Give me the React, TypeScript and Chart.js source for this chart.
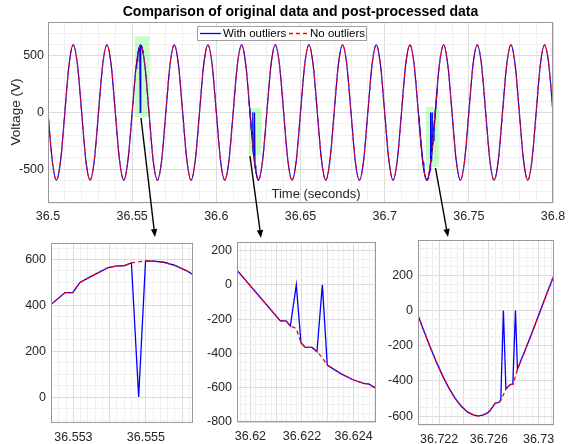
import React, { useEffect, useRef } from 'react';
import { Chart, registerables } from 'chart.js';
Chart.register(...registerables);

const FONT = "'Liberation Sans', Arial, Helvetica, sans-serif";
const W = 574;
const H = 444;

// ---------------- main chart data ----------------
const mainStartTime = 36.5;
const mainTimeStep = 0.0025;
const mainVoltage = [
  0, -423, -598, -423, 0, 423, 598, 423,
  0, -423, -598, -423, 0, 423, 598, 423,
  0, -423, -598, -423, 0, 423, 598, 423,
  0, -423, -598, -423, 0, 423, 598, 423,
  0, -423, -598, -423, 0, 423, 598, 423,
  0, -423, -598, -423, 0, 423, 598, 423,
  0, -423, -598, -423, 0, 423, 598, 423,
  0, -423, -598, -423, 0, 423, 598, 423,
  0, -423, -598, -423, 0, 423, 598, 423,
  0, -423, -598, -423, 0, 423, 598, 423,
  0, -423, -598, -423, 0, 423, 598, 423,
  0, -423, -598, -423, 0, 423, 598, 423,
  0, -423, -598, -423, 0, 423, 598, 423,
  0, -423, -598, -423, 0, 423, 598, 423,
  0, -423, -598, -423, 0, 423, 598, 423,
  0,
];
const mainXTicks = [36.5, 36.55, 36.6, 36.65, 36.7, 36.75, 36.8];
const mainYTicks = [-500, 0, 500];

// highlighted regions (green boxes)
const highlightStart = [36.5515, 36.6194, 36.7245];
const highlightEnd = [36.56, 36.6268, 36.7324];
const highlightLow = [-40, -380, -482];
const highlightHigh = [673, 40, 50];

// ---------------- zoom 1 ----------------
const sub1Times = [36.5523, 36.55277, 36.55298, 36.55318, 36.55346, 36.55373, 36.55396, 36.55419, 36.55439, 36.5546, 36.5548, 36.55499, 36.5552, 36.5555, 36.5558, 36.5561, 36.5564];
const sub1With = [393, 456, 456, 500, 524, 546, 565, 572, 572, 585, 0, 594, 593, 588, 574, 553, 526];
const sub1Without = [393, 456, 456, 500, 524, 546, 565, 572, 572, 585, null, 594, 593, 588, 574, 553, 526];
const sub1XTicks = [36.553, 36.555];
const sub1YTicks = [0, 200, 400, 600];

// ---------------- zoom 2 ----------------
const sub2Times = [36.6194, 36.62116, 36.62138, 36.62155, 36.62178, 36.62196, 36.62213, 36.62239, 36.62258, 36.62279, 36.62298, 36.6235, 36.624, 36.62439, 36.62458, 36.6249];
const sub2With = [100, -210, -210, -240, 0, -338, -365, -365, -390, 0, -468, -518, -555, -575, -578, -605];
const sub2Without = [100, -210, -210, -240, -255, -338, -365, -365, -390, -425, -468, -518, -555, -575, -578, -605];
const sub2XTicks = [36.62, 36.622, 36.624];
const sub2YTicks = [-800, -600, -400, -200, 0, 200];

// ---------------- zoom 3 ----------------
const sub3Times = [36.7203, 36.7208, 36.7213, 36.7218, 36.7223, 36.7228, 36.7233, 36.7238, 36.7243, 36.7248, 36.72515, 36.7255, 36.7259, 36.7261, 36.7265, 36.72683, 36.72696, 36.72717, 36.72737, 36.72771, 36.72793, 36.72814, 36.7283, 36.7288, 36.7293, 36.7298, 36.7303, 36.7308, 36.7313];
const sub3With = [-28, -121, -211, -296, -374, -442, -500, -545, -577, -594, -598, -594, -581, -568, -527, -521, -508, 0, -446, -421, -418, 0, -333, -246, -158, -66, 28, 121, 211];
const sub3Without = [-28, -121, -211, -296, -374, -442, -500, -545, -577, -594, -598, -594, -581, -568, -527, -521, -508, -478, -446, -421, -418, -375, -333, -246, -158, -66, 28, 121, 211];
const sub3XTicks = [36.722, 36.726, 36.73];
const sub3YTicks = [-600, -400, -200, 0, 200];

// ---------------- helpers ----------------
const BLUE = '#0000ff';
const RED = '#ff0000';
const DASH = [4, 3];
const GRID_MAJOR = '#dcdcdc';
const GRID_MINOR = '#f0f0f0';
const FRAME = '#9a9a9a';
const TICK_COLOR = '#262626';
const MAIN_LW = 1.2;
const SUB_LW = 1.3;

type AxisSpec = { min: number; max: number; labels: number[]; major: number; minor: number };

function series(times: number[], values: (number | null)[]) {
  return times.map((t, i) => ({ x: t, y: values[i] }));
}

function gridTicks(a: AxisSpec) {
  const out: { value: number }[] = [];
  const k0 = Math.ceil(a.min / a.minor - 1e-6);
  const k1 = Math.floor(a.max / a.minor + 1e-6);
  for (let k = k0; k <= k1; k++) out.push({ value: +(k * a.minor).toFixed(7) });
  return out;
}

function isMultiple(v: number, step: number) {
  const r = v / step;
  return Math.abs(r - Math.round(r)) < 1e-3;
}

function scaleOpts(a: AxisSpec, axis: 'x' | 'y', size: number, pad: number) {
  return {
    type: 'linear',
    position: axis === 'x' ? 'bottom' : 'left',
    min: a.min,
    max: a.max,
    afterBuildTicks: (s: any) => {
      s.ticks = gridTicks(a);
    },
    afterFit: (s: any) => {
      if (axis === 'x') {
        s.height = size;
        s.paddingLeft = 0;
        s.paddingRight = 0;
      } else {
        s.width = size;
        s.paddingTop = 0;
        s.paddingBottom = 0;
      }
    },
    grid: {
      drawTicks: false,
      lineWidth: 1,
      color: (c: any) => {
        const v = c.tick ? c.tick.value : undefined;
        if (v === undefined) return 'rgba(0,0,0,0)';
        return isMultiple(v, a.major) ? GRID_MAJOR : GRID_MINOR;
      },
    },
    border: { display: false },
    ticks: {
      autoSkip: false,
      maxRotation: 0,
      minRotation: 0,
      padding: pad,
      color: TICK_COLOR,
      font: { family: FONT, size: 12.5 },
      callback: (v: any) => {
        const hit = a.labels.find((l) => Math.abs(l - v) < a.minor * 0.01);
        return hit === undefined ? '' : String(hit);
      },
    },
  };
}

const frame = {
  id: 'frame',
  afterDraw(chart: any) {
    const { ctx, chartArea: c } = chart;
    ctx.save();
    ctx.strokeStyle = FRAME;
    ctx.lineWidth = 1;
    ctx.strokeRect(Math.round(c.left) + 0.5, Math.round(c.top) + 0.5, Math.round(c.right - c.left) - 1, Math.round(c.bottom - c.top) - 1);
    ctx.restore();
  },
};

function arrow(ctx: CanvasRenderingContext2D, x0: number, y0: number, x1: number, y1: number) {
  const ang = Math.atan2(y1 - y0, x1 - x0);
  const L = 8;
  const hw = 3.2;
  const bx = x1 - L * Math.cos(ang);
  const by = y1 - L * Math.sin(ang);
  ctx.beginPath();
  ctx.moveTo(x0, y0);
  ctx.lineTo(bx, by);
  ctx.stroke();
  ctx.beginPath();
  ctx.moveTo(x1, y1);
  ctx.lineTo(bx + hw * Math.sin(ang), by - hw * Math.cos(ang));
  ctx.lineTo(bx - hw * Math.sin(ang), by + hw * Math.cos(ang));
  ctx.closePath();
  ctx.fill();
}

const mainDecor = {
  id: 'mainDecor',
  beforeDatasetsDraw(chart: any) {
    const { ctx, scales } = chart;
    const x = scales.x;
    const y = scales.y;
    ctx.save();
    ctx.fillStyle = 'rgba(0,255,0,0.22)';
    for (let i = 0; i < highlightStart.length; i++) {
      const x0 = x.getPixelForValue(highlightStart[i]);
      const x1 = x.getPixelForValue(highlightEnd[i]);
      const y0 = y.getPixelForValue(highlightHigh[i]);
      const y1 = y.getPixelForValue(highlightLow[i]);
      ctx.fillRect(x0, y0, x1 - x0, y1 - y0);
    }
    ctx.restore();
  },
  afterDraw(chart: any) {
    const { ctx } = chart;
    ctx.save();
    // title
    ctx.fillStyle = '#000';
    ctx.font = `bold 14px ${FONT}`;
    ctx.textAlign = 'center';
    ctx.textBaseline = 'middle';
    ctx.fillText('Comparison of original data and post-processed data', 300.5, 12);
    // x label (inside plot)
    ctx.fillStyle = '#262626';
    ctx.font = `13px ${FONT}`;
    ctx.fillText('Time (seconds)', 316, 194);
    // y label
    ctx.save();
    ctx.translate(16, 112);
    ctx.rotate(-Math.PI / 2);
    ctx.font = `13.5px ${FONT}`;
    ctx.fillText('Voltage (V)', 0, 0);
    ctx.restore();
    // legend
    ctx.fillStyle = '#fff';
    ctx.fillRect(197, 26, 169, 14);
    ctx.strokeStyle = '#a0a0a0';
    ctx.lineWidth = 1;
    ctx.strokeRect(197.5, 26.5, 169, 14);
    ctx.lineWidth = 1.3;
    ctx.strokeStyle = BLUE;
    ctx.beginPath();
    ctx.moveTo(200, 33.5);
    ctx.lineTo(221, 33.5);
    ctx.stroke();
    ctx.strokeStyle = RED;
    ctx.setLineDash(DASH);
    ctx.beginPath();
    ctx.moveTo(289, 33.5);
    ctx.lineTo(309, 33.5);
    ctx.stroke();
    ctx.setLineDash([]);
    ctx.fillStyle = '#000';
    ctx.font = `11.5px ${FONT}`;
    ctx.textAlign = 'left';
    ctx.fillText('With outliers', 223, 34);
    ctx.fillText('No outliers', 310, 34);
    // arrows
    ctx.strokeStyle = '#000';
    ctx.fillStyle = '#000';
    ctx.lineWidth = 1.4;
    arrow(ctx, 141, 118, 155, 237);
    arrow(ctx, 250, 156, 261, 238);
    arrow(ctx, 435.5, 168, 448, 237);
    ctx.restore();
  },
};

type Plot = { left: number; right: number; top: number; bottom: number };

function panelConfig(datasets: any[], xa: AxisSpec, ya: AxisSpec, plot: Plot, yW: number, xH: number, xPad: number, yPad: number, plugins: any[]) {
  return {
    type: 'line',
    data: { datasets },
    options: {
      responsive: false,
      maintainAspectRatio: false,
      animation: false,
      events: [],
      layout: {
        padding: {
          left: plot.left - yW,
          right: W - plot.right,
          top: plot.top,
          bottom: H - plot.bottom - xH,
        },
      },
      plugins: {
        legend: { display: false },
        title: { display: false },
        tooltip: { enabled: false },
      },
      scales: {
        x: scaleOpts(xa, 'x', xH, xPad),
        y: scaleOpts(ya, 'y', yW, yPad),
      },
    },
    plugins,
  } as any;
}

function subDatasets(times: number[], withOut: number[], without: (number | null)[]) {
  return [
    {
      label: 'No outliers',
      data: series(times, without),
      borderColor: RED,
      borderWidth: SUB_LW,
      borderDash: DASH,
      pointRadius: 0,
      tension: 0,
      spanGaps: true,
      order: 0,
    },
    {
      label: 'With outliers',
      data: series(times, withOut),
      borderColor: BLUE,
      borderWidth: SUB_LW,
      pointRadius: 0,
      tension: 0,
      order: 1,
    },
  ];
}

export default function App() {
  const mainRef = useRef<HTMLCanvasElement>(null);
  const s1Ref = useRef<HTMLCanvasElement>(null);
  const s2Ref = useRef<HTMLCanvasElement>(null);
  const s3Ref = useRef<HTMLCanvasElement>(null);

  useEffect(() => {
    const charts: Chart[] = [];
    const mainData = mainVoltage.map((v, i) => ({ x: mainStartTime + i * mainTimeStep, y: v }));
    const spikeSets = [
      [sub1Times, sub1With],
      [sub2Times, sub2With],
      [sub3Times, sub3With],
    ].map(([t, v]: any, i) => ({
      label: 'spike' + i,
      data: series(t, v),
      borderColor: BLUE,
      borderWidth: MAIN_LW,
      pointRadius: 0,
      tension: 0,
      order: 1,
    }));
    const mainSets = [
      {
        label: 'With outliers',
        data: mainData,
        borderColor: BLUE,
        borderWidth: MAIN_LW,
        pointRadius: 0,
        cubicInterpolationMode: 'monotone',
        order: 2,
      },
      {
        label: 'No outliers',
        data: mainData,
        borderColor: RED,
        borderWidth: MAIN_LW,
        borderDash: DASH,
        pointRadius: 0,
        cubicInterpolationMode: 'monotone',
        order: 0,
      },
      ...spikeSets,
    ];
    charts.push(
      new Chart(
        mainRef.current!,
        panelConfig(
          mainSets,
          { min: 36.5, max: 36.8, labels: mainXTicks, major: 0.05, minor: 0.01 },
          { min: -800, max: 800, labels: mainYTicks, major: 500, minor: 100 },
          { left: 48, right: 553, top: 22, bottom: 203 },
          40, 20, 6, 4,
          [frame, mainDecor]
        )
      )
    );
    charts.push(
      new Chart(
        s1Ref.current!,
        panelConfig(
          subDatasets(sub1Times, sub1With, sub1Without),
          { min: 36.55238, max: 36.5563, labels: sub1XTicks, major: 0.001, minor: 0.0002 },
          { min: -113, max: 672, labels: sub1YTicks, major: 200, minor: 50 },
          { left: 51, right: 193, top: 243, bottom: 423 },
          40, 20, 7, 5,
          [frame]
        )
      )
    );
    charts.push(
      new Chart(
        s2Ref.current!,
        panelConfig(
          subDatasets(sub2Times, sub2With, sub2Without),
          { min: 36.61948, max: 36.62487, labels: sub2XTicks, major: 0.001, minor: 0.0002 },
          { min: -800, max: 250, labels: sub2YTicks, major: 200, minor: 50 },
          { left: 237, right: 376, top: 242, bottom: 422 },
          40, 20, 7, 5,
          [frame]
        )
      )
    );
    charts.push(
      new Chart(
        s3Ref.current!,
        panelConfig(
          subDatasets(sub3Times, sub3With, sub3Without),
          { min: 36.7203, max: 36.73124, labels: sub3XTicks, major: 0.002, minor: 0.0005 },
          { min: -650, max: 400, labels: sub3YTicks, major: 200, minor: 50 },
          { left: 418, right: 554, top: 240, bottom: 425 },
          40, 18, 7, 5,
          [frame]
        )
      )
    );
    return () => charts.forEach((c) => c.destroy());
  }, []);

  const cs: React.CSSProperties = { position: 'absolute', left: 0, top: 0, width: W, height: H };
  return (
    <div style={{ position: 'absolute', left: 0, top: 0, width: W, height: H, background: '#fff', overflow: 'hidden' }}>
      <canvas ref={mainRef} width={W} height={H} style={cs} />
      <canvas ref={s1Ref} width={W} height={H} style={cs} />
      <canvas ref={s2Ref} width={W} height={H} style={cs} />
      <canvas ref={s3Ref} width={W} height={H} style={cs} />
    </div>
  );
}
